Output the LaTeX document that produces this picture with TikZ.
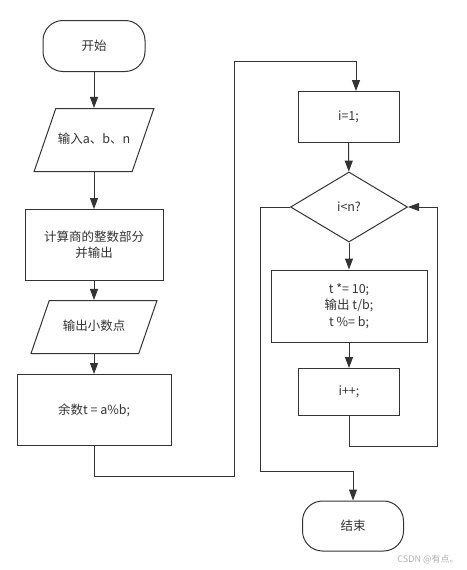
\documentclass[tikz,border=0pt]{standalone}
\usepackage{fontspec}
\setmainfont{Noto Sans CJK SC}
\usetikzlibrary{shapes.geometric,arrows.meta}
\definecolor{linegray}{HTML}{333333}
\definecolor{markgray}{HTML}{B0B0B0}

\begin{document}
\begin{tikzpicture}[x=1pt,y=-1pt,
    every node/.style={text=linegray,font=\fontsize{12.5}{16.5}\selectfont},
    base/.style={draw=linegray,line width=1pt,inner sep=2pt,align=center},
    term/.style={base,rectangle,rounded corners=20pt,minimum width=102,minimum height=51},
    io/.style={base,trapezium,trapezium left angle=71,trapezium right angle=109,
        trapezium stretches body,text height=9pt,text depth=3pt},
    proc/.style={base,rectangle},
    cond/.style={base,diamond,minimum width=117,minimum height=70,inner sep=0pt},
    arr/.style={draw=linegray,line width=1pt,-{Triangle[length=11pt,width=8pt]}}]
    \useasboundingbox (0,0) rectangle (466,570);
    % left column
    \node[term] (start) at (94,46) {开始};
    \node[io,minimum width=119,inner ysep=25.5pt] (input) at (94,140) {输入a、b、n};
    \node[proc,minimum width=138,minimum height=71] (quot) at (94,245) {计算商的整数部分\\并输出};
    \node[io,minimum width=126,inner ysep=20.5pt] (dot) at (94,327) {输出小数点};
    \node[proc,minimum width=154,minimum height=71] (rem) at (94,410) {余数t = a\%b;};
    % right column
    \node[proc,minimum width=101,minimum height=51] (init) at (348.5,117) {i=1;};
    \node[cond] (test) at (349,207) {i<n?};
    \node[proc,minimum width=156,minimum height=72] (body) at (349,306) {t *= 10;\\输出 t/b;\\t \%= b;};
    \node[proc,minimum width=101,minimum height=47] (incr) at (349,392) {i++;};
    \node[term,minimum width=101,minimum height=50] (finish) at (353,526) {结束};
    \node[text=markgray,font=\fontsize{9}{10}\selectfont] (mark) at (428,559) {CSDN @有点。};
    % bends
    \coordinate (low) at (234,476);
    \coordinate (high) at (234,61);
    \coordinate (exit) at (260,471);
    \coordinate (back) at (437,446);
    % connectors
    \draw[arr] (start) -- (input);
    \draw[arr] (input) -- (quot);
    \draw[arr] (quot) -- (dot);
    \draw[arr] (dot) -- (rem);
    \draw[arr] (rem.south) |- (low) -- (high) -| ([xshift=7.5pt]init.north);
    \draw[arr] (init) -- (test);
    \draw[arr] (test) -- (body);
    \draw[arr] (body) -- (incr);
    \draw[arr] (incr.south) |- (back) |- (test.east);
    \draw[arr] (test.west) -| (exit) -| (finish.north);
\end{tikzpicture}
\end{document}
